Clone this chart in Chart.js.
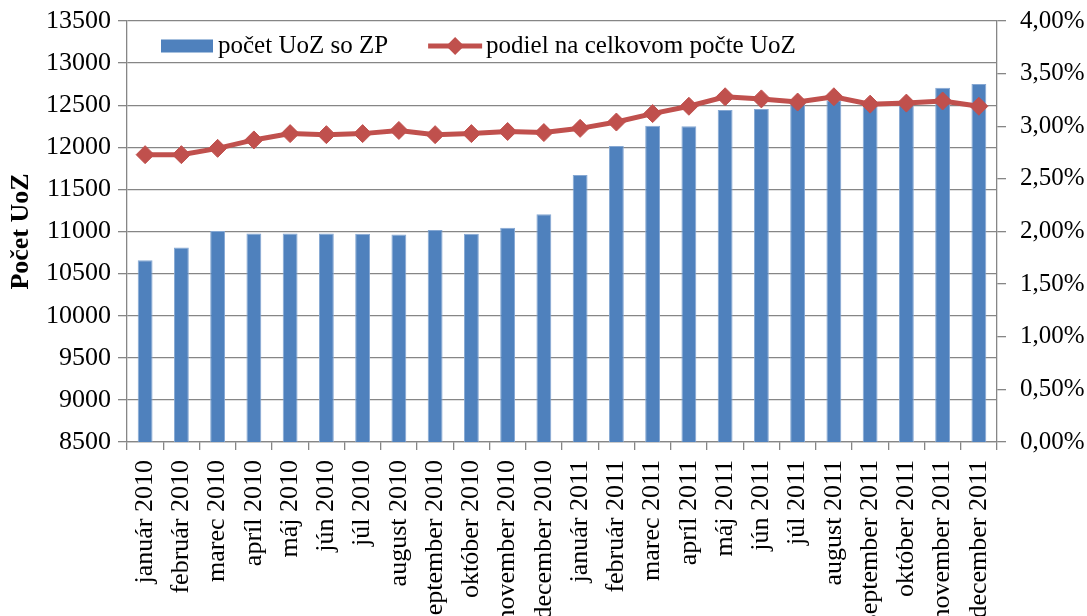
<!DOCTYPE html>
<html>
<head>
<meta charset="utf-8">
<script src="https://cdn.jsdelivr.net/npm/chart.js@4.4.0/dist/chart.umd.min.js"></script>
<style>
  html, body { margin: 0; padding: 0; background: #ffffff; overflow: hidden; }
  canvas { display: block; }
</style>
</head>
<body>
<canvas id="chart" width="1087" height="616"></canvas>
<script>
const months = [
  "január 2010", "február 2010", "marec 2010", "apríl 2010", "máj 2010", "jún 2010",
  "júl 2010", "august 2010", "september 2010", "október 2010", "november 2010", "december 2010",
  "január 2011", "február 2011", "marec 2011", "apríl 2011", "máj 2011", "jún 2011",
  "júl 2011", "august 2011", "september 2011", "október 2011", "november 2011", "december 2011"
];

// počet UoZ so ZP
const uozCounts = [
  10660, 10810, 11005, 10975, 10975, 10975, 10972, 10965, 11018, 10972, 11045, 11205,
  11670, 12015, 12257, 12250, 12443, 12455, 12540, 12560, 12510, 12530, 12706, 12753
];

// podiel na celkovom počte UoZ (v %)
const sharePct = [
  2.73, 2.73, 2.79, 2.87, 2.93, 2.92, 2.93, 2.96, 2.92, 2.93, 2.95, 2.94,
  2.98, 3.04, 3.12, 3.19, 3.28, 3.26, 3.23, 3.28, 3.21, 3.22, 3.24, 3.19
];

const countLabel = "počet UoZ so ZP";
const shareLabel = "podiel na celkovom počte UoZ";

const FONT = "'Liberation Serif', 'Times New Roman', serif";
const GRID = "#868686";
const BLUE = "#4F81BD";
const RED = "#C0504D";

// legenda je v grafe (ako v Exceli), kreslíme ju sami
const insideLegend = {
  id: "insideLegend",
  afterDraw (chart) {
    const ctx = chart.ctx;
    const area = chart.chartArea;
    const bars = chart.data.datasets[1];
    const line = chart.data.datasets[0];
    const y = area.top + 25;
    let x = area.left + 34;

    ctx.save();
    ctx.font = `25px ${FONT}`;
    ctx.textBaseline = "middle";

    ctx.fillStyle = bars.backgroundColor;
    ctx.fillRect(x, y - 6.5, 52, 13);
    x += 57;
    ctx.fillStyle = "#000";
    ctx.fillText(bars.label, x, y);
    x += ctx.measureText(bars.label).width + 40;

    ctx.strokeStyle = line.borderColor;
    ctx.lineWidth = 5;
    ctx.beginPath();
    ctx.moveTo(x, y);
    ctx.lineTo(x + 54, y);
    ctx.stroke();
    const cx = x + 27;
    const r = 9;
    ctx.fillStyle = line.pointBackgroundColor;
    ctx.beginPath();
    ctx.moveTo(cx, y - r);
    ctx.lineTo(cx + r, y);
    ctx.lineTo(cx, y + r);
    ctx.lineTo(cx - r, y);
    ctx.closePath();
    ctx.fill();
    x += 58;
    ctx.fillStyle = "#000";
    ctx.fillText(line.label, x, y);
    ctx.restore();
  }
};

// zvislé osi nemajú pridávať okraj nad/pod grafom
function noVerticalPadding (scale) {
  scale.paddingTop = 0;
  scale.paddingBottom = 0;
}

new Chart(document.getElementById("chart"), {
  data: {
    labels: months,
    datasets: [
      {
        type: "line",
        label: shareLabel,
        data: sharePct,
        yAxisID: "y1",
        borderColor: RED,
        borderWidth: 5,
        pointStyle: "rectRot",
        pointRadius: 9,
        pointBackgroundColor: RED,
        pointBorderColor: RED,
        pointBorderWidth: 1,
        tension: 0,
        order: 0
      },
      {
        type: "bar",
        label: countLabel,
        data: uozCounts,
        yAxisID: "y",
        backgroundColor: BLUE,
        borderColor: "#86A8D3",
        borderWidth: 1,
        categoryPercentage: 1,
        barPercentage: 0.41,
        order: 1
      }
    ]
  },
  options: {
    responsive: false,
    animation: false,
    devicePixelRatio: 1,
    layout: { padding: { top: 21, left: 0, right: 0, bottom: 0 } },
    plugins: {
      legend: { display: false },
      tooltip: { enabled: false }
    },
    scales: {
      x: {
        offset: true,
        border: { color: GRID, width: 1.3 },
        grid: { drawOnChartArea: false, drawTicks: true, tickLength: 8, color: GRID, lineWidth: 1.3 },
        ticks: {
          autoSkip: false,
          minRotation: 90,
          maxRotation: 90,
          padding: 10,
          color: "#000",
          font: { family: FONT, size: 26 }
        },
        afterFit (scale) { scale.height = 174; }
      },
      y: {
        position: "left",
        min: 8500,
        max: 13500,
        border: { color: GRID, width: 1.3 },
        grid: { color: GRID, lineWidth: 1.3, tickLength: 9 },
        ticks: {
          stepSize: 500,
          padding: 7,
          color: "#000",
          font: { family: FONT, size: 26 },
          callback: (value) => String(value)
        },
        title: {
          display: true,
          text: "Počet UoZ",
          color: "#000",
          padding: { top: 6, bottom: 0 },
          font: { family: FONT, size: 26, weight: "bold" }
        },
        afterFit (scale) {
          scale.width = 127;
          noVerticalPadding(scale);
        }
      },
      y1: {
        position: "right",
        min: 0,
        max: 4,
        border: { color: GRID, width: 1.3 },
        grid: { drawOnChartArea: false, color: GRID, lineWidth: 1.3, tickLength: 9 },
        ticks: {
          stepSize: 0.5,
          padding: 14,
          color: "#000",
          font: { family: FONT, size: 25 },
          callback: (value) => value.toFixed(2).replace(".", ",") + "%"
        },
        afterFit (scale) {
          scale.width = 90;
          noVerticalPadding(scale);
        }
      }
    }
  },
  plugins: [insideLegend]
});
</script>
</body>
</html>
